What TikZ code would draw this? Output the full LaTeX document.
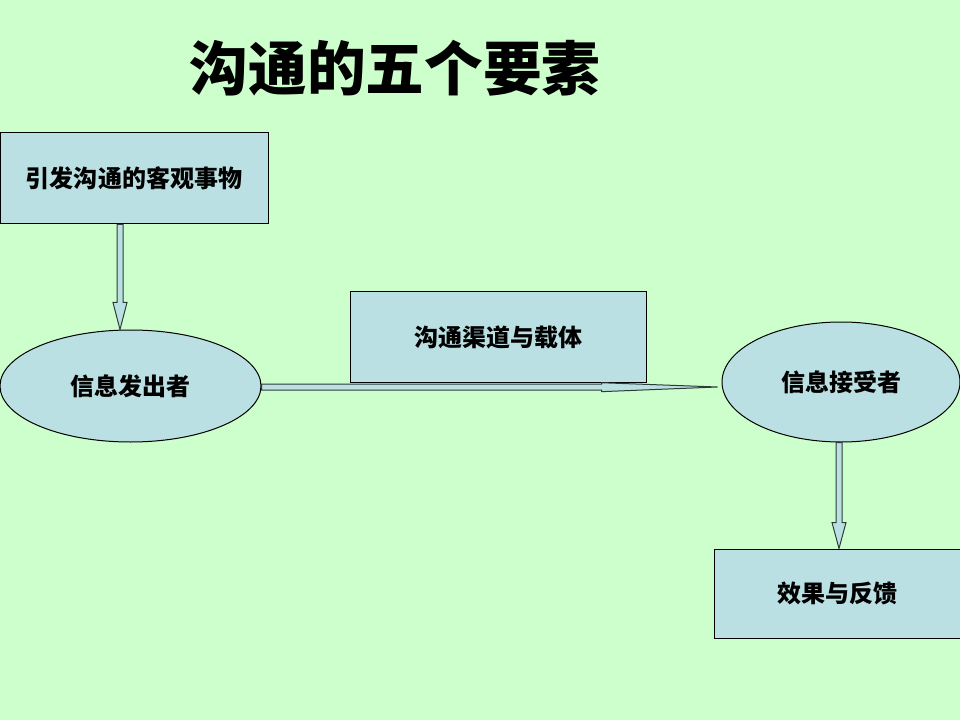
\documentclass[tikz,border=0pt]{standalone}
\usepackage{fontspec}
\newfontfamily\cjk{Noto Sans CJK SC}
\usepackage{tikz}
\usetikzlibrary{shapes.geometric,calc}
\definecolor{bgreen}{RGB}{204,255,204}
\definecolor{lblue}{RGB}{187,224,227}
\definecolor{adark}{RGB}{45,60,55}
\tikzset{box/.style={draw=black,line width=0.75pt,fill=lblue,font=\cjk\bfseries\fontsize{18}{20}\selectfont}}
\tikzset{oval/.style={ellipse,draw=black,line width=0.75pt,fill=lblue,inner sep=0pt,font=\cjk\bfseries\fontsize{18}{20}\selectfont}}
\tikzset{downarrow/.style={draw=adark,fill=lblue,line width=0.75pt,to path={let \p1=(\tikztostart), \p2=(\tikztotarget) in
  (\x1-2.25pt,\y1) -- (\x1-2.25pt,\y2+#1) -- (\x1-5.25pt,\y2+#1) -- (\x1,\y2) -- (\x1+5.25pt,\y2+#1) -- (\x1+2.25pt,\y2+#1) -- (\x1+2.25pt,\y1) -- cycle}}}
\tikzset{rightarrow/.style={draw=adark,fill=lblue,line width=0.75pt,to path={let \p1=(\tikztostart), \p2=(\tikztotarget) in
  (\x1,\y1+2.25pt) -- (\x2-#1,\y1+2.25pt) -- (\x2-#1,\y1+3.2pt) -- (\x2,\y1) -- (\x2-#1,\y1-3.5pt) -- (\x2-#1,\y1-2.25pt) -- (\x1,\y1-2.25pt) -- cycle}}}

\begin{document}
\begin{tikzpicture}[x=0.75pt,y=-0.75pt]
  \fill[bgreen] (0,0) rectangle (960,720);
  \useasboundingbox (0,0) rectangle (960,720);

  \node[font=\cjk\bfseries\fontsize{44}{48}\selectfont] (title) at (395,68) {沟通的五个要素};

  \node[box,minimum width=201pt,minimum height=68.25pt] (cause) at (134,178.5) {引发沟通的客观事物};
  \node[oval,minimum width=195.75pt,minimum height=84pt] (sender) at (130.5,386) {信息发出者};
  \node[box,minimum width=222pt,minimum height=67.5pt] (channel) at (498,337) {沟通渠道与载体};
  \node[oval,minimum width=178.5pt,minimum height=90pt] (receiver) at (841,382) {信息接受者};
  \node[box,minimum width=184.5pt,minimum height=66.75pt] (effect) at (837,593.5) {效果与反馈};

  % arrows
  \draw[downarrow=20.25pt] ($(cause.south)+(-14,0)$) to ($(sender.north)+(-10,0)$);
  \draw[rightarrow=87pt] ($(sender.east)+(0,1)$) to ($(receiver.west)+(-4,4)$);
  \draw[downarrow=19.5pt] ($(receiver.south)+(-2,0)$) to (effect.north);
\end{tikzpicture}
\end{document}
